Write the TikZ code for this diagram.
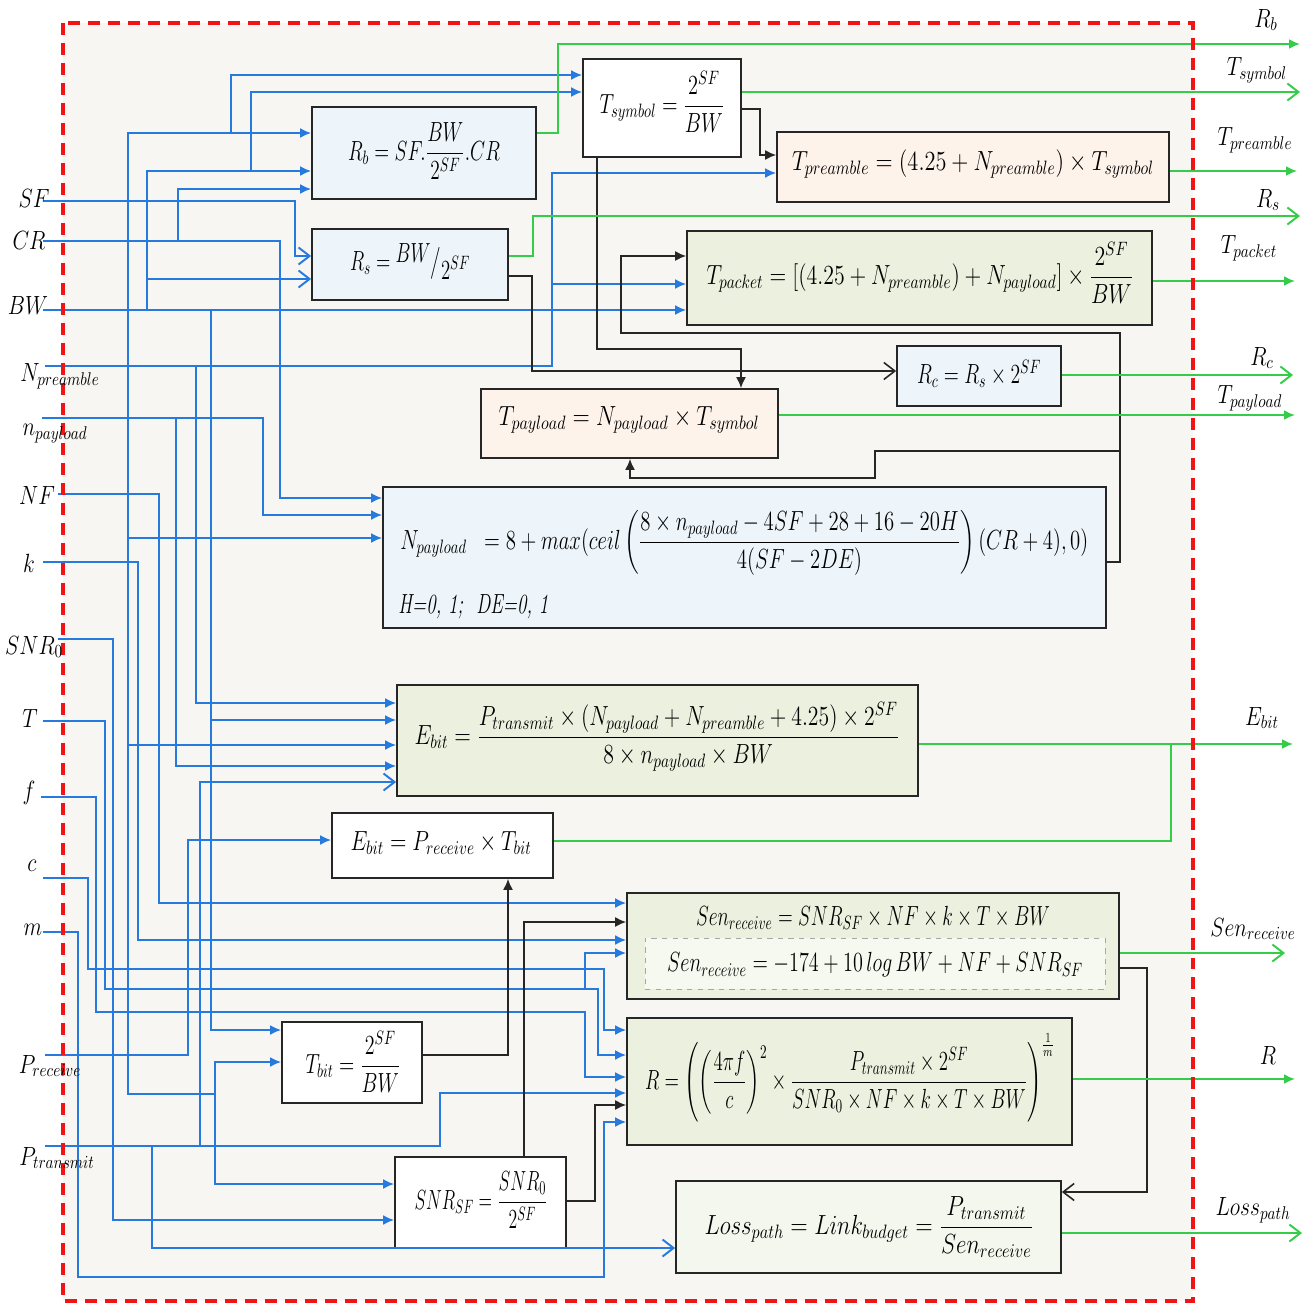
\RequirePackage{fix-cm}
\documentclass[tikz,border=0pt]{standalone}
\usepackage{amsmath}
\usepackage{graphicx}
\usetikzlibrary{arrows.meta,fit,calc}
\definecolor{inblue}{RGB}{38,122,222}
\definecolor{outgreen}{RGB}{52,204,72}
\definecolor{ink}{RGB}{38,38,38}
\definecolor{bgpanel}{RGB}{247,246,242}
\definecolor{fblue}{RGB}{237,245,250}
\definecolor{fpeach}{RGB}{253,243,235}
\definecolor{fgreen}{RGB}{235,241,222}
\definecolor{fpale}{RGB}{244,247,238}
\definecolor{framered}{RGB}{240,20,20}
% set a formula to a given width, keeping its height
\newcommand{\fitbox}[2]{\resizebox*{#1}{1.05\totalheight}{#2}}
% narrower setting for the port labels
\newcommand{\cnd}[1]{\scalebox{0.82}[1.0]{#1}}
\tikzset{
  ah/.tip={Latex[length=2.2mm,width=2mm]},
  oh/.tip={Straight Barb[length=2.2mm,width=3.4mm]},
  box/.style={draw=ink,line width=1pt,inner sep=0pt},
  innerdash/.style={draw=gray!70,dashed,line width=0.5pt,inner sep=0pt,fill=white!55!fgreen},
  bl/.style={inblue,line width=1.1pt},
  gr/.style={outgreen,line width=1.1pt},
  bk/.style={ink,line width=0.9pt},
  lbl/.style={inner sep=1pt},
  eq/.style={inner sep=0pt}
}
\begin{document}
\begin{tikzpicture}[x=0.02cm,y=-0.02cm,font=\fontsize{15}{18}\selectfont]
\useasboundingbox (0,0) rectangle (1309,1305);
% panel
\fill[bgpanel] (63,23) rectangle (1193,1301);

% ---------- equation blocks ----------
\node[box,fill=fblue,fit={(312,107)(536,199)}] (Rb) {};
\node[box,fill=fblue,fit={(312,229)(508,300)}] (Rs) {};
\node[box,fill=white,fit={(583,59)(741,157)}] (Tsym) {};
\node[box,fill=fpeach,fit={(777,132)(1169,202)}] (Tpre) {};
\node[box,fill=fgreen,fit={(687,231)(1152,325)}] (Tpack) {};
\node[box,fill=fblue,fit={(897,346)(1061,406)}] (Rc) {};
\node[box,fill=fpeach,fit={(481,389)(778,458)}] (Tpay) {};
\node[box,fill=fblue,fit={(383,487)(1106,628)}] (Npay) {};
\node[box,fill=fgreen,fit={(397,685)(918,796)}] (Ebit) {};
\node[box,fill=white,fit={(332,813)(553,878)}] (Ebr) {};
\node[box,fill=fgreen,fit={(627,893)(1119,999)}] (Sen) {};
\node[innerdash,fit={(645,938)(1105,989)}] (Sendb) {};
\node[box,fill=fgreen,fit={(627,1018)(1072,1145)}] (Rng) {};
\node[box,fill=white,fit={(282,1022)(422,1103)}] (Tbit) {};
\node[box,fill=white,fit={(395,1157)(566,1248)}] (Snr) {};
\node[box,fill=fpale,fit={(676,1181)(1061,1273)}] (Loss) {};

\node[eq] (tRb) at (424,151) {\fitbox{3.04cm}{$R_b = SF.\dfrac{BW}{2^{SF}}.CR$}};
\node[eq] (tRs) at (410,262) {\fitbox{2.4cm}{$R_s = \raisebox{0.7ex}{$BW$}\big/\raisebox{-0.7ex}{$2^{SF}$}$}};
\node[eq] (tTsym) at (662,102) {\fitbox{2.5cm}{$T_{symbol} = \dfrac{2^{SF}}{BW}$}};
\node[eq] (tTpre) at (973,164) {\fitbox{7.24cm}{$T_{preamble} = \left(4.25 + N_{preamble}\right) \times T_{symbol}$}};
\node[eq] (tTpack) at (920,273) {\fitbox{8.54cm}{$T_{packet} = \left[\left(4.25 + N_{preamble}\right) + N_{payload}\right] \times \dfrac{2^{SF}}{BW}$}};
\node[eq] (tRc) at (979,374) {\fitbox{2.48cm}{$R_c = R_s \times 2^{SF}$}};
\node[eq] (tTpay) at (629,420) {\fitbox{5.22cm}{$T_{payload} = N_{payload} \times T_{symbol}$}};
\node[eq,anchor=west] (tNpay) at (400,543) {\fitbox{13.76cm}{$N_{payload}\;\; = 8 + max(ceil\left(\dfrac{8\times n_{payload} - 4SF + 28 + 16 - 20H}{4(SF-2DE)}\right)(CR+4),0)$}};
\node[eq,anchor=west] (tNpay2) at (398,607) {\fitbox{3.0cm}{\textit{H=0, 1;\ \ DE=0, 1}}};
\node[eq] (tEbit) at (657,737) {\fitbox{9.7cm}{$E_{bit} = \dfrac{P_{transmit}\times\left(N_{payload}+N_{preamble}+4.25\right)\times 2^{SF}}{8\times n_{payload}\times BW}$}};
\node[eq] (tEbr) at (441,843) {\fitbox{3.62cm}{$E_{bit} = P_{receive}\times T_{bit}$}};
\node[eq] (tSen) at (873,918) {\fitbox{7.08cm}{$Sen_{receive} = SNR_{SF}\times NF\times k\times T\times BW$}};
\node[eq] (tSen2) at (875,965) {\fitbox{8.32cm}{$Sen_{receive} = -174 + 10\,log\,BW + NF + SNR_{SF}$}};
\node[eq] (tR) at (850,1078) {\fitbox{8.2cm}{$R = \left(\left(\dfrac{4\pi f}{c}\right)^{2}\times\dfrac{P_{transmit}\times 2^{SF}}{SNR_0\times NF\times k\times T\times BW}\right)^{\frac{1}{m}}$}};
\node[eq] (tTbit) at (353,1062) {\fitbox{1.9cm}{$T_{bit} = \dfrac{2^{SF}}{BW}$}};
\node[eq] (tSnr) at (481,1200) {\fitbox{2.66cm}{$SNR_{SF} = \dfrac{SNR_0}{2^{SF}}$}};
\node[eq] (tLoss) at (869,1227) {\fitbox{6.58cm}{$Loss_{path} = Link_{budget} = \dfrac{P_{transmit}}{Sen_{receive}}$}};

% ---------- input line starts ----------
\coordinate (sf) at (43,201);
\coordinate (cr) at (43,241);
\coordinate (bw) at (43,310);
\coordinate (npre) at (45,366);
\coordinate (npl) at (42,418);
\coordinate (nf) at (58,494);
\coordinate (kk) at (43,562);
\coordinate (snr) at (58,639);
\coordinate (tt) at (43,721);
\coordinate (ff) at (41,797);
\coordinate (cc) at (43,878);
\coordinate (mm) at (43,932);
\coordinate (prx) at (45,1055);
\coordinate (ptx) at (45,1146);

% SF
\draw[bl,-oh] (sf) -| (295,256) -- (Rs.west |- 0,256);
\draw[bl,-ah] (128,201) |- (Rb.west |- 0,133);
\draw[bl,-ah] (231,133) |- (Tsym.west |- 0,75);
\draw[bl] (128,201) -- (128,1094) -- (215,1094);
\draw[bl,-ah] (128,538) -- (Npay.west |- 0,538);
\draw[bl,-ah] (128,745) -- (Ebit.west |- 0,745);
\draw[bl,-ah] (215,1094) |- (Tbit.west |- 0,1062);
\draw[bl,-ah] (215,1094) |- (Snr.west |- 0,1184);
% BW
\draw[bl,-ah] (bw) -- (Tpack.west |- 0,310);
\draw[bl,-ah] (147,310) |- (Rb.west |- 0,171);
\draw[bl,-ah] (251,171) |- (Tsym.west |- 0,92);
\draw[bl,-oh] (147,279) -- (Rs.west |- 0,279);
\draw[bl,-ah] (211,310) |- (Tbit.west |- 0,1030);
\draw[bl,-ah] (211,720) -- (Ebit.west |- 0,720);
% CR
\draw[bl,-ah] (cr) -| (280,498) -- (Npay.west |- 0,498);
\draw[bl,-ah] (178,241) |- (Rb.west |- 0,189);
% N_preamble
\draw[bl,-ah] (npre) -| (552,173) -- (Tpre.west |- 0,173);
\draw[bl,-ah] (552,284) -- (Tpack.west |- 0,284);
\draw[bl,-ah] (196,366) |- (Ebit.west |- 0,703);
% n_payload
\draw[bl,-ah] (npl) -| (263,515) -- (Npay.west |- 0,515);
\draw[bl,-ah] (176,418) |- (Ebit.west |- 0,766);
% NF, k, SNR0
\draw[bl,-ah] (nf) -| (159,903) -- (Sen.west |- 0,903);
\draw[bl,-ah] (kk) -| (138,940) -- (Sen.west |- 0,940);
\draw[bl,-ah] (snr) -| (113,1220) -- (Snr.west |- 0,1220);
% T, f, c, m
\draw[bl,-ah] (tt) -| (105,989) -| (598,1055) -- (Rng.west |- 0,1055);
\draw[bl,-ah] (585,989) |- (Sen.west |- 0,953);
\draw[bl,-ah] (ff) -| (96,1012) -| (585,1077) -- (Rng.west |- 0,1077);
\draw[bl,-ah] (cc) -| (88,969) -| (604,1030) -- (Rng.west |- 0,1030);
\draw[bl,-ah] (mm) -| (78,1277) -| (604,1122) -- (Rng.west |- 0,1122);
% P_receive, P_transmit
\draw[bl,-ah] (prx) -| (188,840) -- (Ebr.west |- 0,840);
\draw[bl,-oh] (ptx) -| (200,782) -- (Ebit.west |- 0,782);
\draw[bl,-ah] (200,1146) -| (440,1093) -- (Rng.west |- 0,1093);
\draw[bl,-oh] (152,1146) |- (Loss.west |- 0,1248);

% ---------- internal links ----------
\draw[bk,-ah] (Tsym.east |- 0,109) -| (760,155) -- (Tpre.west |- 0,155);
\draw[bk,-ah] (Tsym.south -| 597,0) -- (597,349) -| (Tpay.north -| 741,0);
\draw[bk,-oh] (Rs.east |- 0,276) -| (532,371) -- (Rc.west |- 0,371);
\draw[bk,-ah] (Npay.east |- 0,562) -| (1120,333) -| (621,256) -- (Tpack.west |- 0,256);
\draw[bk,-ah] (1120,451) -| (875,478) -| (Tpay.south -| 630,0);
\draw[bk,-ah] (Tbit.east |- 0,1055) -| (Ebr.south -| 508,0);
\draw[bk,-ah] (Snr.north -| 524,0) |- (Sen.west |- 0,922);
\draw[bk,-ah] (Snr.east |- 0,1201) -| (595,1105) -- (Rng.west |- 0,1105);
\draw[bk,-oh] (Sen.east |- 0,968) -| (1147,1192) -- (Loss.east |- 0,1192);

% ---------- outputs ----------
\coordinate (oRb) at (1300,44);
\coordinate (oTsym) at (1300,92);
\coordinate (oTpre) at (1297,171);
\coordinate (oRs) at (1300,216);
\coordinate (oTpack) at (1295,281);
\coordinate (oRc) at (1293,375);
\coordinate (oTpay) at (1295,415);
\coordinate (oEbit) at (1293,744);
\coordinate (oSen) at (1285,953);
\coordinate (oR) at (1295,1079);
\coordinate (oLoss) at (1302,1233);
\draw[gr,-ah] (Rb.east |- 0,133) -| (558,44) -- (oRb);
\draw[gr,-oh] (Tsym.east |- 0,92) -- (oTsym);
\draw[gr,-ah] (Tpre.east |- 0,171) -- (oTpre);
\draw[gr,-oh] (Rs.east |- 0,256) -| (533,216) -- (oRs);
\draw[gr,-ah] (Tpack.east |- 0,281) -- (oTpack);
\draw[gr,-oh] (Rc.east |- 0,375) -- (oRc);
\draw[gr,-ah] (Tpay.east |- 0,415) -- (oTpay);
\draw[gr,-ah] (Ebit.east |- 0,744) -- (oEbit);
\draw[gr] (Ebr.east |- 0,841) -| (1171,744);
\draw[gr,-oh] (Sen.east |- 0,953) -- (oSen);
\draw[gr,-ah] (Rng.east |- 0,1079) -- (oR);
\draw[gr,-oh] (Loss.east |- 0,1233) -- (oLoss);

% frame
\draw[framered,line width=2.2pt,dash pattern=on 0.24cm off 0.16cm] (63,23) rectangle (1193,1301);

% ---------- input labels ----------
\node[lbl] (lSF) at (34,198) {\cnd{$SF$}};
\node[lbl] (lCR) at (29,240) {\cnd{$CR$}};
\node[lbl] (lBW) at (28,305) {\cnd{$BW$}};
\node[lbl] (lNpre) at (60,376) {\cnd{$N_{preamble}$}};
\node[lbl] (lnpl) at (55,434) {\cnd{$n_{payload}$}};
\node[lbl] (lNF) at (37,495) {\cnd{$NF$}};
\node[lbl] (lk) at (29,563) {\cnd{$k$}};
\node[lbl] (lSNR) at (34,647) {\cnd{$SNR_0$}};
\node[lbl] (lT) at (30,718) {\cnd{$T$}};
\node[lbl] (lf) at (29,793) {\cnd{$f$}};
\node[lbl] (lc) at (32,866) {\cnd{$c$}};
\node[lbl] (lm) at (33,930) {\cnd{$m$}};
\node[lbl] (lPr) at (50,1066) {\cnd{$P_{receive}$}};
\node[lbl] (lPt) at (57,1158) {\cnd{$P_{transmit}$}};

% ---------- output labels ----------
\node[lbl] (qRb) at (1266,20) {\cnd{$R_b$}};
\node[lbl] (qTsym) at (1257,70) {\cnd{$T_{symbol}$}};
\node[lbl] (qTpre) at (1255,140) {\cnd{$T_{preamble}$}};
\node[lbl] (qRs) at (1268,200) {\cnd{$R_s$}};
\node[lbl] (qTpack) at (1249,248) {\cnd{$T_{packet}$}};
\node[lbl] (qRc) at (1262,358) {\cnd{$R_c$}};
\node[lbl] (qTpay) at (1250,398) {\cnd{$T_{payload}$}};
\node[lbl] (qEbit) at (1262,718) {\cnd{$E_{bit}$}};
\node[lbl] (qSen) at (1253,929) {\cnd{$Sen_{receive}$}};
\node[lbl] (qR) at (1268,1055) {\cnd{$R$}};
\node[lbl] (qLoss) at (1253,1210) {\cnd{$Loss_{path}$}};
\end{tikzpicture}
\end{document}
